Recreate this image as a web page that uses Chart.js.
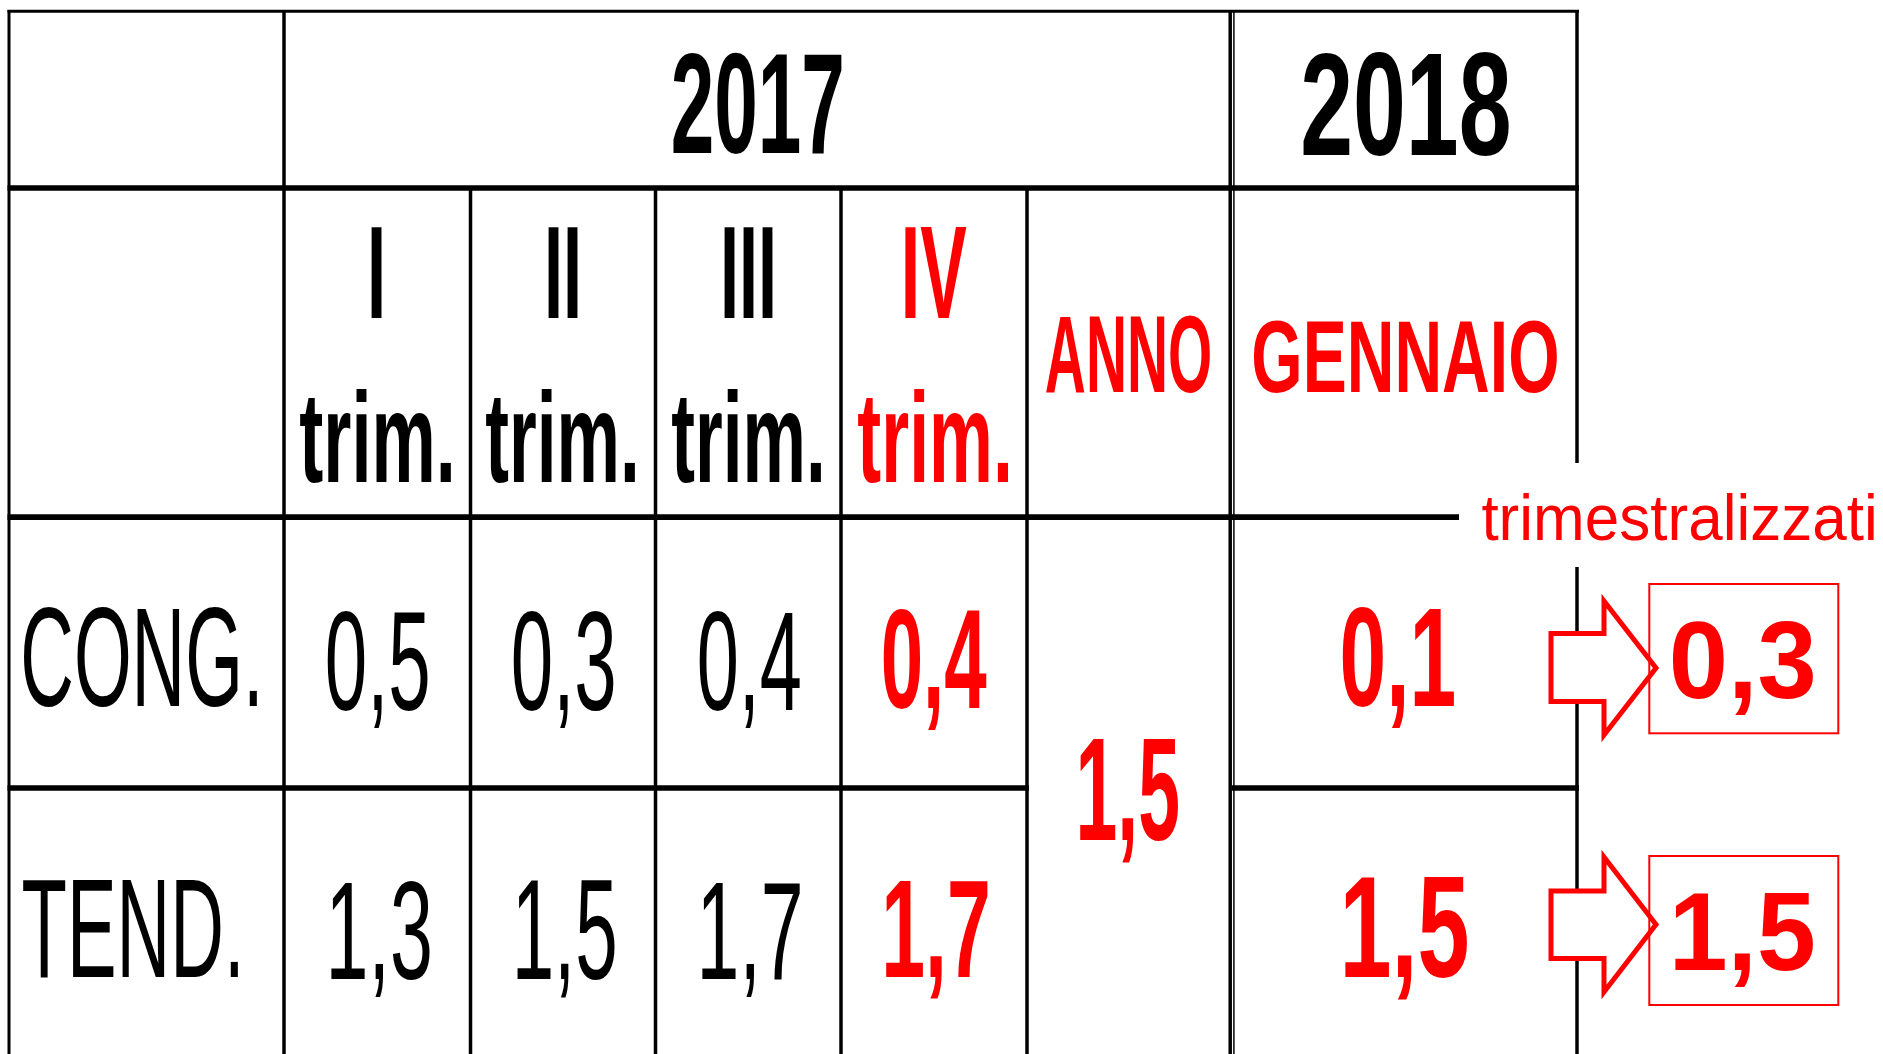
<!DOCTYPE html>
<html><head><meta charset="utf-8">
<script src="https://cdn.jsdelivr.net/npm/chart.js@4/dist/chart.umd.min.js"></script>
<style>html,body{margin:0;padding:0;background:#fff;overflow:hidden}</style>
</head><body>
<canvas id="c" width="1883" height="1054"></canvas>
<script>
// ---- data ----
const years = ['2017', '2018'];
const quarters = ['I', 'II', 'III', 'IV'];
const quarterSuffix = 'trim.';
const annualLabel = 'ANNO';
const monthLabel = 'GENNAIO';
const rowLabels = ['CONG.', 'TEND.'];
const cong2017 = [0.5, 0.3, 0.4, 0.4];
const tend2017 = [1.3, 1.5, 1.7, 1.7];
const annual2017 = [1.5];
const jan2018 = [0.1, 1.5];
const jan2018Quarterly = [0.3, 1.5];
const noteLabel = 'trimestralizzati';

// ---- layout (design units; mapped through the chart scales) ----
const RED = '#ff0000', BLACK = '#000000';
const FONT = "'Liberation Sans Narrow','Liberation Sans',Arial,sans-serif";
const B = {
  years: [[673, 842, 53, 153], [1303, 1509, 52, 155]],
  quarters: [[371, 382, 226, 318], [548, 578, 226, 318], [724, 773, 226, 318], [905, 967, 226, 318]],
  trim: [[300, 451, 389, 482], [486, 635, 389, 482], [672, 821, 389, 482], [858, 1008, 389, 482]],
  anno: [1046, 1210, 316, 392],
  month: [1254, 1557, 320, 392],
  rows: [[24, 257, 607, 706], [23, 238, 880, 977]],
  cong: [[327, 428, 611, 710], [513, 614, 611, 710], [699, 800, 611, 710], [883, 987, 609, 708]],
  tend: [[331, 430, 881, 979], [517, 615, 881, 979], [702, 800, 881, 979], [886, 988, 879, 977]],
  annual: [[1080, 1178, 739, 840]],
  jan: [[1342, 1454, 607, 706], [1345, 1467, 877, 977]],
  janQ: [[1672, 1813, 622, 698], [1675, 1813, 893, 970]],
  note: [1482, 1874, 492, 540]
};
const hLines = [ // y, x1, x2, width
  [11.3, 7.5, 1579, 3], [188, 7.5, 1579, 5.7], [517.2, 7.5, 1459, 5.7],
  [788, 7.5, 1029, 5.7], [788, 1232, 1579, 5.7]
];
const vLines = [ // x, y1, y2, width
  [9, 10, 1054, 3], [284, 10, 1054, 3.5], [470.5, 188, 1054, 3.5], [655.5, 188, 1054, 3.5],
  [841, 188, 1054, 3.5], [1027, 188, 1054, 3.5], [1230.2, 10, 1054, 3.5], [1233.9, 10, 1054, 1.5],
  [1577, 10, 463, 3.5], [1577, 567, 1054, 3.5]
];
const arrows = [ // shaftLeft, shaftTop, shaftBottom, headBaseX, headTop, headBottom, tipX, tipY
  [1551, 633.5, 701.5, 1604, 601, 735, 1656, 668],
  [1551, 891, 958.5, 1604, 857, 992, 1656, 924.5]
];
const boxes = [[1649.3, 584, 1838.3, 733.3], [1649.3, 856, 1838.3, 1005]];

const fmt = v => v.toFixed(1).replace('.', ',');

function fitText(ctx, text, left, baseline, w, h, color, bold) {
  ctx.save();
  ctx.font = (bold ? 'bold ' : '') + '100px ' + FONT;
  ctx.textAlign = 'left';
  ctx.textBaseline = 'alphabetic';
  const m = ctx.measureText(text);
  const inkW = m.actualBoundingBoxRight + m.actualBoundingBoxLeft;
  const asc = m.actualBoundingBoxAscent;
  ctx.translate(left, baseline);
  ctx.scale(w / inkW, h / asc);
  ctx.fillStyle = color;
  ctx.fillText(text, m.actualBoundingBoxLeft, 0);
  ctx.restore();
}

function boxText(chart, text, b, color, bold) {
  const xs = chart.scales.x, ys = chart.scales.y;
  const l = xs.getPixelForValue(b[0]), r = xs.getPixelForValue(b[1]);
  const t = ys.getPixelForValue(b[2]), bl = ys.getPixelForValue(b[3]);
  fitText(chart.ctx, text, l, bl, r - l, bl - t, color, bold);
}

function mkDataset(label, values, bx, colors, bolds) {
  return {
    label, values, bx, colors, bolds,
    data: values.map((v, i) => ({ x: (bx[i][0] + bx[i][1]) / 2, y: bx[i][3] })),
    pointRadius: 0, pointHoverRadius: 0, showLine: false
  };
}

const tablePlugin = {
  id: 'tablePlugin',
  beforeDraw(chart) {
    const ctx = chart.ctx;
    ctx.save(); ctx.fillStyle = '#fff'; ctx.fillRect(0, 0, chart.width, chart.height); ctx.restore();
  },
  beforeDatasetsDraw(chart) {
    const ctx = chart.ctx, xs = chart.scales.x, ys = chart.scales.y;
    const X = v => xs.getPixelForValue(v), Y = v => ys.getPixelForValue(v);
    ctx.save();
    ctx.strokeStyle = BLACK; ctx.lineCap = 'butt';
    hLines.forEach(([y, x1, x2, w]) => {
      ctx.lineWidth = w; ctx.beginPath(); ctx.moveTo(X(x1), Y(y)); ctx.lineTo(X(x2), Y(y)); ctx.stroke();
    });
    vLines.forEach(([x, y1, y2, w]) => {
      ctx.lineWidth = w; ctx.beginPath(); ctx.moveTo(X(x), Y(y1)); ctx.lineTo(X(x), Y(y2)); ctx.stroke();
    });
    // header texts
    years.forEach((t, i) => boxText(chart, t, B.years[i], BLACK, true));
    quarters.forEach((t, i) => {
      const c = i === 3 ? RED : BLACK;
      boxText(chart, t, B.quarters[i], c, true);
      boxText(chart, quarterSuffix, B.trim[i], c, true);
    });
    boxText(chart, annualLabel, B.anno, RED, true);
    boxText(chart, monthLabel, B.month, RED, true);
    rowLabels.forEach((t, i) => boxText(chart, t, B.rows[i], BLACK, false));
    boxText(chart, noteLabel, B.note, RED, false);
    // arrows
    ctx.lineJoin = 'miter'; ctx.miterLimit = 10;
    arrows.forEach(([sl, st, sb, hx, ht, hb, tx, ty]) => {
      ctx.beginPath();
      ctx.moveTo(X(sl), Y(st)); ctx.lineTo(X(hx), Y(st)); ctx.lineTo(X(hx), Y(ht));
      ctx.lineTo(X(tx), Y(ty)); ctx.lineTo(X(hx), Y(hb)); ctx.lineTo(X(hx), Y(sb));
      ctx.lineTo(X(sl), Y(sb)); ctx.closePath();
      ctx.fillStyle = '#fff'; ctx.fill();
      ctx.strokeStyle = RED; ctx.lineWidth = 5; ctx.stroke();
    });
    boxes.forEach(([x1, y1, x2, y2]) => {
      ctx.strokeStyle = RED; ctx.lineWidth = 2;
      ctx.strokeRect(X(x1), Y(y1), X(x2) - X(x1), Y(y2) - Y(y1));
    });
    ctx.restore();
  },
  afterDatasetsDraw(chart) {
    const xs = chart.scales.x, ys = chart.scales.y;
    chart.data.datasets.forEach((ds, di) => {
      const meta = chart.getDatasetMeta(di);
      meta.data.forEach((el, j) => {
        const b = ds.bx[j];
        const w = xs.getPixelForValue(b[1]) - xs.getPixelForValue(b[0]);
        const h = ys.getPixelForValue(b[3]) - ys.getPixelForValue(b[2]);
        fitText(chart.ctx, fmt(ds.values[j]), el.x - w / 2, el.y, w, h, ds.colors[j], ds.bolds[j]);
      });
    });
  }
};

new Chart(document.getElementById('c'), {
  type: 'scatter',
  data: {
    datasets: [
      mkDataset('CONG. 2017', cong2017, B.cong, [BLACK, BLACK, BLACK, RED], [false, false, false, true]),
      mkDataset('TEND. 2017', tend2017, B.tend, [BLACK, BLACK, BLACK, RED], [false, false, false, true]),
      mkDataset('ANNO 2017', annual2017, B.annual, [RED], [true]),
      mkDataset('GENNAIO 2018', jan2018, B.jan, [RED, RED], [true, true]),
      mkDataset('trimestralizzati', jan2018Quarterly, B.janQ, [RED, RED], [true, true])
    ]
  },
  options: {
    responsive: false, animation: false, events: [],
    layout: { padding: 0 },
    scales: {
      x: { type: 'linear', min: 0, max: 1883, display: false },
      y: { type: 'linear', min: 0, max: 1054, reverse: true, display: false }
    },
    plugins: { legend: { display: false }, tooltip: { enabled: false } }
  },
  plugins: [tablePlugin]
});
</script>
</body></html>
